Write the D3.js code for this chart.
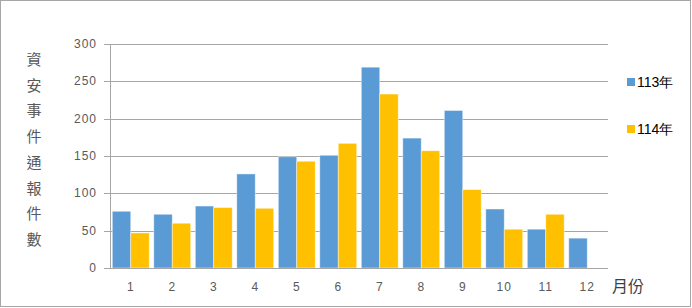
<!DOCTYPE html>
<html lang="zh-Hant">
<head>
<meta charset="UTF-8">
<title>資安事件通報件數</title>
<script src="https://d3js.org/d3.v7.min.js"></script>
<style>
    body { margin: 0; background: #fff; }
    .tick-label { font-family: "Liberation Sans", Arial, sans-serif; font-size: 12px; fill: #595959; letter-spacing: 1px; }
    .grid line { stroke: #a6a6a6; stroke-width: 1px; }
    .axis-title { font-family: "Noto Sans CJK TC", sans-serif; fill: #595959; }
    .legend-text { font-family: "Liberation Sans", Arial, sans-serif; font-size: 14px; fill: #000; }
</style>
</head>
<body>
<div id="chart"></div>
<script>
    var months = ["1", "2", "3", "4", "5", "6", "7", "8", "9", "10", "11", "12"];
    var seriesNames = ["113年", "114年"];
    var values113 = [76, 72, 83, 126, 149, 151, 269, 174, 211, 79, 52, 40];
    var values114 = [47, 60, 81, 80, 143, 167, 233, 157, 105, 52, 72, null];
    var yTicks = [0, 50, 100, 150, 200, 250, 300];
    var colors = ["#5b9bd5", "#ffc000"];
    var yTitle = "資安事件通報件數";
    var xTitle = "月份";

    var w = 692, h = 308;
    var plotLeft = 110, plotRight = 608, plotTop = 44, plotBottom = 268;

    var svg = d3.select("#chart").append("svg")
        .attr("width", w)
        .attr("height", h);

    // outer border
    svg.append("rect")
        .attr("x", 0.5).attr("y", 0.5)
        .attr("width", w - 2).attr("height", h - 2)
        .attr("fill", "#fff")
        .attr("stroke", "#a6a6a6");

    var xScale = d3.scaleBand()
        .domain(months)
        .range([plotLeft, plotRight])
        .paddingInner(0.11)
        .paddingOuter(0.055);

    var subScale = d3.scaleBand()
        .domain(seriesNames)
        .range([0, xScale.bandwidth()]);

    var yScale = d3.scaleLinear()
        .domain([0, 300])
        .range([plotBottom, plotTop]);

    // gridlines
    svg.append("g")
        .attr("class", "grid")
        .selectAll("line")
        .data(yTicks)
        .enter().append("line")
        .attr("x1", plotLeft - 6)
        .attr("x2", plotRight)
        .attr("y1", function(d) { return Math.round(yScale(d)) + 0.5; })
        .attr("y2", function(d) { return Math.round(yScale(d)) + 0.5; });

    // y axis line
    svg.append("line")
        .attr("x1", plotLeft + 0.5).attr("x2", plotLeft + 0.5)
        .attr("y1", plotTop).attr("y2", plotBottom)
        .attr("stroke", "#a6a6a6");

    // y tick labels
    svg.append("g")
        .selectAll("text")
        .data(yTicks)
        .enter().append("text")
        .attr("class", "tick-label")
        .attr("x", plotLeft - 13)
        .attr("y", function(d) { return yScale(d) + 4; })
        .attr("text-anchor", "end")
        .text(function(d) { return d; });

    // bars
    var data = months.map(function(m, i) {
        return { month: m, vals: [values113[i], values114[i]] };
    });

    var groups = svg.append("g")
        .selectAll("g")
        .data(data)
        .enter().append("g")
        .attr("transform", function(d) { return "translate(" + xScale(d.month) + ",0)"; });

    groups.selectAll("rect")
        .data(function(d) {
            return d.vals.map(function(v, j) { return { name: seriesNames[j], value: v, j: j }; })
                .filter(function(e) { return e.value != null; });
        })
        .enter().append("rect")
        .attr("x", function(d) { return subScale(d.name); })
        .attr("y", function(d) { return yScale(d.value); })
        .attr("width", subScale.bandwidth())
        .attr("height", function(d) { return plotBottom - yScale(d.value); })
        .attr("fill", function(d) { return colors[d.j]; })
        .attr("stroke", "#fff")
        .attr("stroke-opacity", 0.6)
        .attr("stroke-width", 0.75);

    // x axis line (on top of bars)
    svg.append("line")
        .attr("x1", plotLeft - 6).attr("x2", plotRight)
        .attr("y1", plotBottom + 0.5).attr("y2", plotBottom + 0.5)
        .attr("stroke", "#a6a6a6");

    // x tick labels
    svg.append("g")
        .selectAll("text")
        .data(months)
        .enter().append("text")
        .attr("class", "tick-label")
        .attr("x", function(d) { return xScale(d) + xScale.bandwidth() / 2; })
        .attr("y", 291)
        .attr("text-anchor", "middle")
        .text(function(d) { return d; });

    // y title, stacked vertically
    svg.append("g")
        .selectAll("text")
        .data(yTitle.split(""))
        .enter().append("text")
        .attr("class", "axis-title")
        .attr("x", 34)
        .attr("y", function(d, i) { return 65 + i * 25.7; })
        .attr("text-anchor", "middle")
        .style("font-size", "15px")
        .text(function(d) { return d; });

    // x title
    svg.append("text")
        .attr("class", "axis-title")
        .attr("x", 612)
        .attr("y", 292)
        .style("font-size", "16px")
        .style("fill", "#404040")
        .text(xTitle);

    // legend
    var legend = svg.append("g")
        .selectAll("g")
        .data(seriesNames)
        .enter().append("g")
        .attr("transform", function(d, i) { return "translate(627," + (78 + i * 47) + ")"; });

    legend.append("rect")
        .attr("width", 8).attr("height", 8)
        .attr("fill", function(d, i) { return colors[i]; });

    legend.append("text")
        .attr("class", "legend-text")
        .attr("x", 10)
        .attr("y", 9)
        .text(function(d) { return d; });
</script>
</body>
</html>
